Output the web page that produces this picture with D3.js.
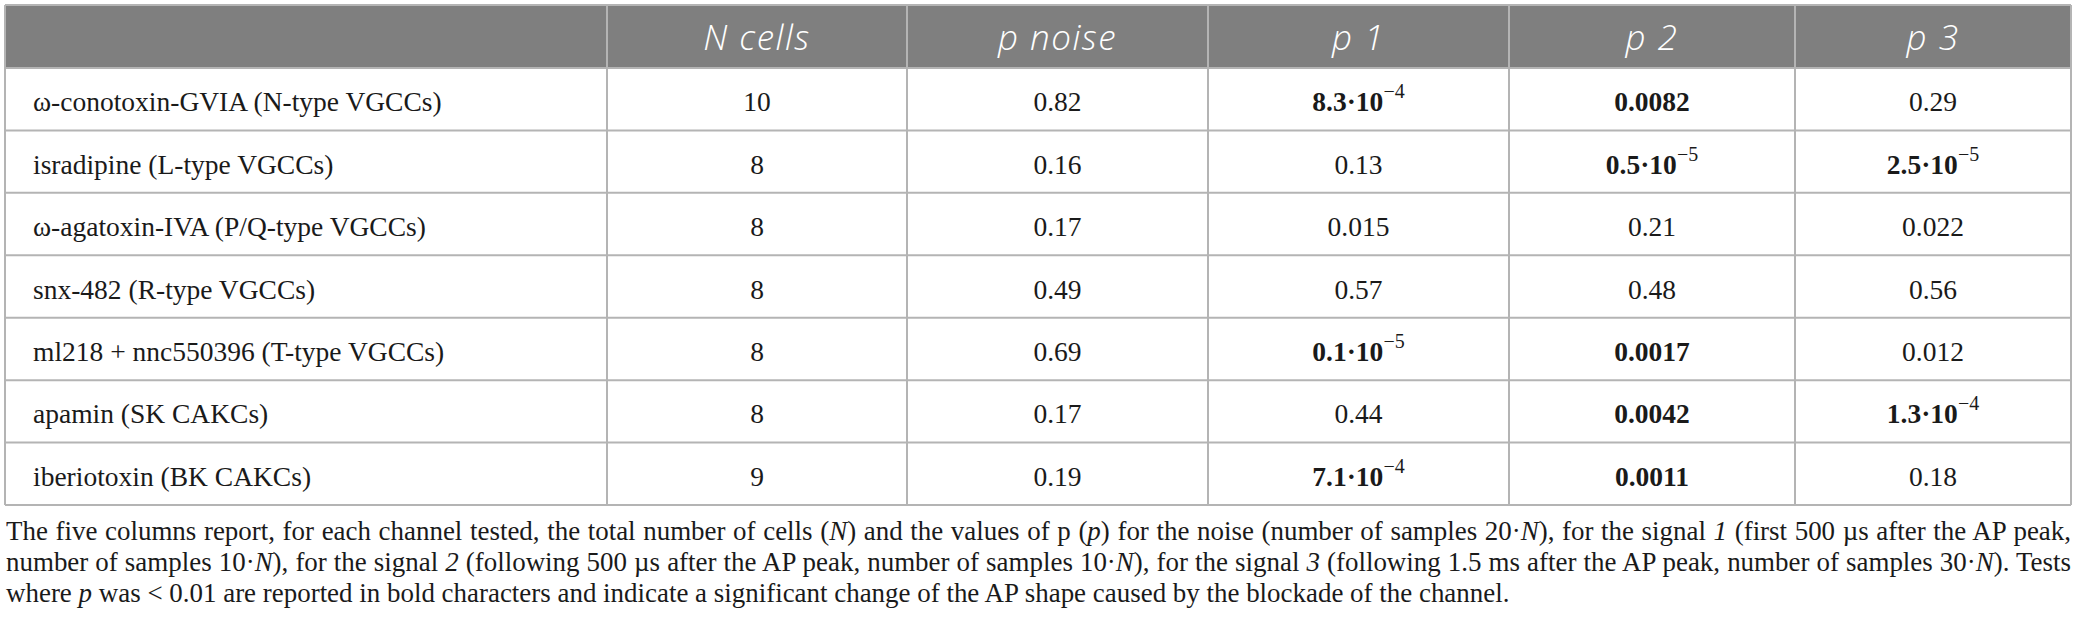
<!DOCTYPE html>
<html>
<head>
<meta charset="utf-8">
<script src="https://cdn.jsdelivr.net/npm/d3@7/dist/d3.min.js"></script>
<style>
  html, body { margin: 0; padding: 0; background: #fff; }
  svg { display: block; }
</style>
</head>
<body>
<svg id="table"></svg>
<script>
const headers = ["", "N cells", "p noise", "p 1", "p 2", "p 3"];

const channels = [
  "ω-conotoxin-GVIA (N-type VGCCs)",
  "isradipine (L-type VGCCs)",
  "ω-agatoxin-IVA (P/Q-type VGCCs)",
  "snx-482 (R-type VGCCs)",
  "ml218 + nnc550396 (T-type VGCCs)",
  "apamin (SK CAKCs)",
  "iberiotoxin (BK CAKCs)",
];
const nCells = [10, 8, 8, 8, 8, 8, 9];
const pNoise = ["0.82", "0.16", "0.17", "0.49", "0.69", "0.17", "0.19"];
const p1 = ["8.3e-4", "0.13", "0.015", "0.57", "0.1e-5", "0.44", "7.1e-4"];
const p2 = ["0.0082", "0.5e-5", "0.21", "0.48", "0.0017", "0.0042", "0.0011"];
const p3 = ["0.29", "2.5e-5", "0.022", "0.56", "0.012", "1.3e-4", "0.18"];

// caption, *...* = italic
const captionLines = [
  "The five columns report, for each channel tested, the total number of cells (*N*) and the values of p (*p*) for the noise (number of samples 20·*N*), for the signal *1* (first 500 µs after the AP peak,",
  "number of samples 10·*N*), for the signal *2* (following 500 µs after the AP peak, number of samples 10·*N*), for the signal *3* (following 1.5 ms after the AP peak, number of samples 30·*N*). Tests",
  "where *p* was < 0.01 are reported in bold characters and indicate a significant change of the AP shape caused by the blockade of the channel.",
];

const W = 2078, H = 633;
const colEdges = [5, 607, 907, 1208, 1509, 1795, 2071];
const tableTop = 5, headerBottom = 68, tableBottom = 505;
const lineColor = "#b4b4b4";
const headFill = "#7f7f7f";

const svg = d3.select("#table").attr("width", W).attr("height", H);

const cols = d3.range(headers.length);
const colLeft = d3.scaleOrdinal().domain(cols).range(colEdges.slice(0, -1));
const colRight = d3.scaleOrdinal().domain(cols).range(colEdges.slice(1));
const colMid = (c) => (colLeft(c) + colRight(c)) / 2;

const y = d3.scaleBand().domain(d3.range(channels.length)).range([headerBottom, tableBottom]);

const rows = channels.map((name, i) => [name, String(nCells[i]), pNoise[i], p1[i], p2[i], p3[i]]);

// header
svg.append("rect")
  .attr("x", colEdges[0])
  .attr("y", tableTop)
  .attr("width", colEdges[colEdges.length - 1] - colEdges[0])
  .attr("height", headerBottom - tableTop)
  .attr("fill", headFill);

svg.append("g")
  .selectAll("text")
  .data(headers)
  .join("text")
  .attr("x", (d, i) => colMid(i))
  .attr("y", 50)
  .attr("text-anchor", "middle")
  .attr("font-family", "'Open Sans', sans-serif")
  .attr("font-style", "italic")
  .attr("font-weight", 300)
  .attr("font-size", "35px")
  .attr("letter-spacing", "1.5px")
  .attr("fill", "#fff")
  .text((d) => d);

// grid lines
const grid = svg.append("g").attr("stroke", lineColor).attr("stroke-width", 2);
const hLines = [tableTop, headerBottom].concat(y.domain().map((i) => y(i) + y.bandwidth()));
grid.selectAll(".h")
  .data(hLines)
  .join("line")
  .attr("x1", colEdges[0])
  .attr("x2", colEdges[colEdges.length - 1])
  .attr("y1", (d) => d)
  .attr("y2", (d) => d);
grid.selectAll(".v")
  .data(colEdges)
  .join("line")
  .attr("x1", (d) => d)
  .attr("x2", (d) => d)
  .attr("y1", tableTop)
  .attr("y2", tableBottom);

// cells
const body = svg.append("g")
  .attr("font-family", "'Liberation Serif', 'Times New Roman', serif")
  .attr("font-size", "27.5px")
  .attr("fill", "#1a1a1a");

rows.forEach((row, r) => {
  row.forEach((cell, c) => {
    const t = body.append("text")
      .attr("x", c === 0 ? 33 : colMid(c))
      .attr("y", y(r) + y.bandwidth() / 2 + 12)
      .attr("text-anchor", c === 0 ? "start" : "middle");
    // p < 0.01 in bold
    const bold = c >= 3 && +cell < 0.01;
    t.attr("font-weight", bold ? "bold" : "normal");
    if (c >= 3 && cell.includes("e")) {
      const [m, e] = cell.split("e");
      t.append("tspan").text(m + "·10");
      t.append("tspan")
        .attr("font-size", "20px")
        .attr("font-weight", "normal")
        .attr("dy", -13)
        .text("−" + e.replace("-", ""));
    } else {
      t.text(cell);
    }
  });
});

// caption
const cap = svg.append("g")
  .attr("font-family", "'Liberation Serif', 'Times New Roman', serif")
  .attr("font-size", "24px")
  .attr("fill", "#1a1a1a");

const capLeft = 6, capRight = 2071, lastLineEnd = 1510;
const capTexts = captionLines.map((line, i) => {
  const t = cap.append("text")
    .attr("x", capLeft)
    .attr("y", 540 + i * 31)
    .attr("xml:space", "preserve");
  line.split("*").forEach((seg, k) => {
    t.append("tspan")
      .attr("font-style", k % 2 ? "italic" : "normal")
      .text(seg);
  });
  return t;
});

// size the caption so the last (ragged) line ends where it does in print
const lastW = capTexts[capTexts.length - 1].node().getComputedTextLength();
cap.attr("font-size", (24 * (lastLineEnd - capLeft) / lastW).toFixed(2) + "px");

capTexts.forEach((t, i) => {
  if (i === capTexts.length - 1) return;
  const natural = t.node().getComputedTextLength();
  const spaces = (captionLines[i].match(/ /g) || []).length;
  t.attr("word-spacing", (capRight - capLeft - natural) / spaces);
});
</script>
</body>
</html>
